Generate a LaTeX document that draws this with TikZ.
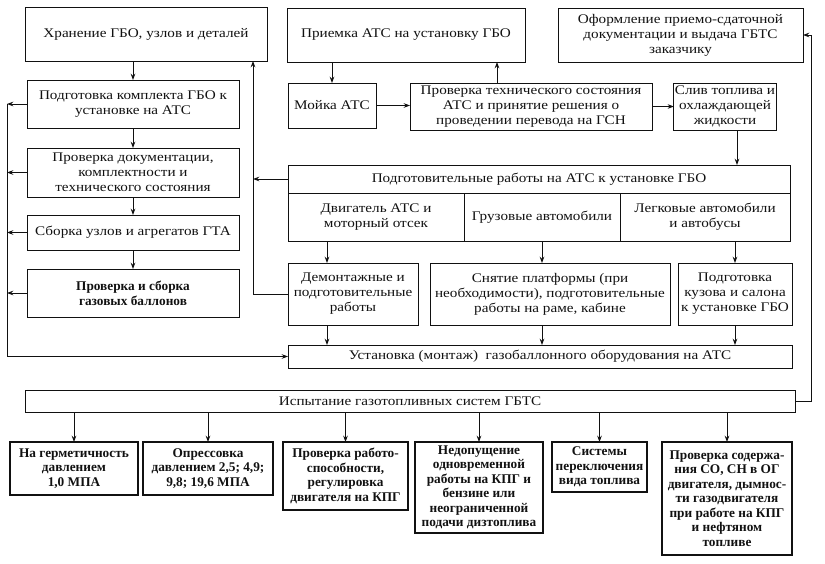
\documentclass[tikz,border=0pt]{standalone}
\usepackage{fontspec}
\setmainfont{Liberation Serif}[FakeStretch=1.15]
\newfontfamily\testfont{Liberation Serif}
\usetikzlibrary{arrows.meta}
\definecolor{ink}{HTML}{111111}

\begin{document}
\begin{tikzpicture}[x=1pt, y=-1pt, ink, font=\fontsize{13.2}{15}\selectfont,
  >={Stealth[length=2.2mm,width=1.6mm]},
  flow/.style={->, line width=0.8pt},
  box/.style={draw, line width=0.9pt, align=center, inner xsep=1pt, inner ysep=2pt, outer sep=0pt},
  testbox/.style={box, line width=1.5pt, font=\testfont\fontsize{13.3}{14.5}\selectfont\bfseries}]

\useasboundingbox (0,0) rectangle (825,563);

% left column
\node[box, minimum width=242pt, minimum height=54pt] (hran) at (146,34)
  {Хранение ГБО, узлов и деталей};
\node[box, minimum width=212pt, minimum height=48pt] (podg) at (133,104)
  {Подготовка комплекта ГБО к\\установке на АТС};
\node[box, minimum width=212pt, minimum height=49pt] (prov) at (133,172.5)
  {Проверка документации,\\комплектности и\\технического состояния};
\node[box, minimum width=212pt, minimum height=35pt] (sbor) at (133,232.5)
  {Сборка узлов и агрегатов ГТА};
\node[box, minimum width=212pt, minimum height=48pt, font=\testfont\fontsize{13.3}{15}\selectfont\bfseries] (ballon) at (133,293)
  {Проверка и сборка\\газовых баллонов};

% reception
\node[box, minimum width=238pt, minimum height=54pt] (priem) at (406,35)
  {Приемка АТС на установку ГБО};
\node[box, minimum width=88pt, minimum height=45pt] (moika) at (332,105.5)
  {Мойка АТС};
\node[box, minimum width=242pt, minimum height=47pt] (tehsost) at (531,106.5)
  {Проверка технического состояния\\АТС и принятие решения о\\проведении перевода на ГСН};
\node[box, minimum width=100pt, minimum height=47pt] (sliv) at (725,106.5)
  {Слив топлива и\\охлаждающей\\жидкости};
\node[box, minimum width=245pt, minimum height=54pt] (oform) at (680.5,35)
  {Оформление приемо-сдаточной\\документации и выдача ГБТС\\заказчику};

% preparatory works
\node[box, minimum width=502pt, minimum height=28pt] (header) at (539,179)
  {Подготовительные работы на АТС к установке ГБО};
\node[box, minimum width=176pt, minimum height=48pt] (dvig) at (376,217)
  {Двигатель АТС и\\моторный отсек};
\node[box, minimum width=156pt, minimum height=48pt] (gruz) at (542,217)
  {Грузовые автомобили};
\node[box, minimum width=170pt, minimum height=48pt] (legk) at (705,217)
  {Легковые автомобили\\и автобусы};
\node[box, minimum width=130pt, minimum height=62pt] (demont) at (353,294)
  {Демонтажные и\\подготовительные\\работы};
\node[box, minimum width=240pt, minimum height=62pt] (snyat) at (550,294)
  {Снятие платформы (при\\необходимости), подготовительные\\работы на раме, кабине};
\node[box, minimum width=114pt, minimum height=62pt] (kuzov) at (735,294)
  {Подготовка\\кузова и салона\\к установке ГБО};

% mounting and tests
\node[box, minimum width=504pt, minimum height=23pt] (ustan) at (540,356.5)
  {Установка (монтаж)\ \ газобаллонного оборудования на АТС};
\node[box, minimum width=770pt, minimum height=22pt] (ispyt) at (410,401)
  {Испытание газотопливных систем ГБТС};

\node[testbox, minimum width=128pt, minimum height=53pt] (t1) at (74,468.5)
  {На герметичность\\давлением\\1,0 МПА};
\node[testbox, minimum width=130pt, minimum height=53pt] (t2) at (208,468.5)
  {Опрессовка\\давлением 2,5; 4,9;\\9,8; 19,6 МПА};
\node[testbox, minimum width=125pt, minimum height=68pt] (t3) at (345.5,476)
  {Проверка работо-\\способности,\\регулировка\\двигателя на КПГ};
\node[testbox, minimum width=128pt, minimum height=91pt] (t4) at (479,487.5)
  {Недопущение\\одновременной\\работы на КПГ и\\бензине или\\неограниченной\\подачи дизтоплива};
\node[testbox, minimum width=95pt, minimum height=50pt] (t5) at (599.5,467)
  {Системы\\переключения\\вида топлива};
\node[testbox, minimum width=130pt, minimum height=113pt] (t6) at (727,498.5)
  {Проверка содержа-\\ния СО, СН в ОГ\\двигателя, дымнос-\\ти газодвигателя\\при работе на КПГ\\и нефтяном\\топливе};

% buses
\coordinate (lbus) at (7,0);
\coordinate (rbus) at (253,0);
\coordinate (rloop) at (811,0);

% left column flow
\draw[flow] (podg.north |- hran.south) -- (podg.north);
\draw[flow] (podg) -- (prov);
\draw[flow] (prov) -- (sbor);
\draw[flow] (sbor) -- (ballon);
\foreach \n in {podg,prov,sbor,ballon}
  \draw[flow] (\n.west) -- (\n.west -| lbus);
\draw[flow] (podg.west -| lbus) -- (lbus |- ustan.west) -- (ustan.west);

% back to storage
\draw[flow] (demont.west) -| (rbus |- hran.south);
\draw[flow] (header.west) -- (header.west -| rbus);

% reception flow
\draw[flow] (moika.north |- priem.south) -- (moika.north);
\draw[flow] (moika.east) -- (moika.east -| tehsost.west);
\draw[flow] ([xshift=-34pt]tehsost.north) -- ([xshift=-34pt]tehsost.north |- priem.south);
\draw[flow] (tehsost.east) -- (tehsost.east -| sliv.west);
\draw[flow] ([xshift=12pt]sliv.south) -- ([xshift=12pt]sliv.south |- header.north);

% preparatory flow
\draw[flow] ([xshift=-26pt]demont.north |- dvig.south) -- ([xshift=-26pt]demont.north);
\draw[flow] (gruz.south) -- (gruz.south |- snyat.north);
\draw[flow] (kuzov.north |- legk.south) -- (kuzov.north);
\draw[flow] ([xshift=-26pt]demont.south) -- ([xshift=-26pt]demont.south |- ustan.north);
\draw[flow] (gruz.south |- snyat.south) -- (gruz.south |- ustan.north);
\draw[flow] (kuzov.south) -- (kuzov.south |- ustan.north);

% tests
\foreach \t in {t1,t2,t3,t4,t5,t6}
  \draw[flow] (ispyt.south -| \t.north) -- (\t.north);
\draw[flow] (ispyt.east) -| (rloop |- oform.east) -- (oform.east);

\end{tikzpicture}
\end{document}
